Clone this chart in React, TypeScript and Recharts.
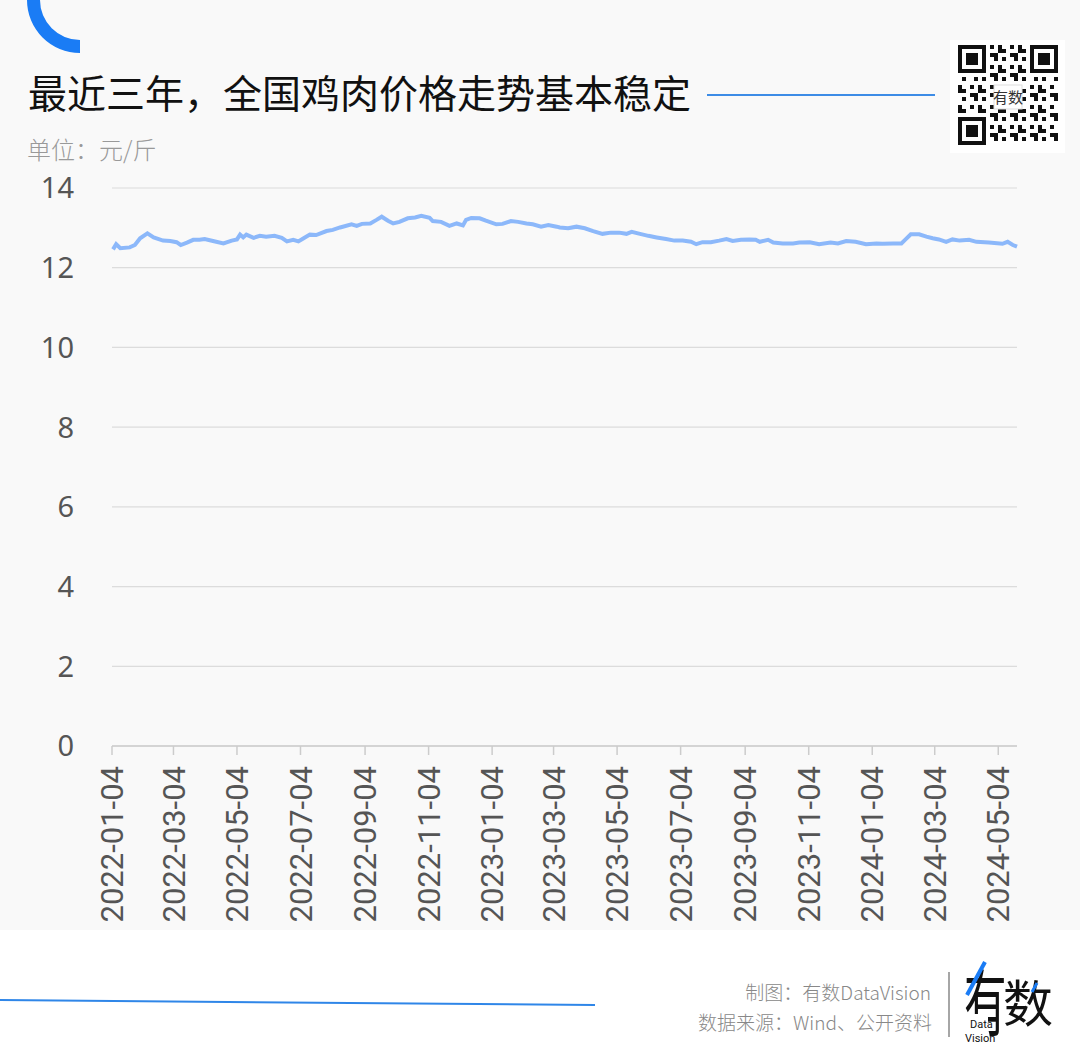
import React from "react"
import { CartesianGrid, Line, LineChart, XAxis, YAxis } from "recharts"

const dates = [
  "2022-01-05", "2022-01-08", "2022-01-12", "2022-01-21", "2022-01-26", "2022-01-31", "2022-02-07", "2022-02-13",
  "2022-02-22", "2022-03-01", "2022-03-07", "2022-03-11", "2022-03-17", "2022-03-23", "2022-03-29", "2022-04-03",
  "2022-04-11", "2022-04-21", "2022-04-29", "2022-05-04", "2022-05-07", "2022-05-10", "2022-05-13", "2022-05-20",
  "2022-05-26", "2022-06-01", "2022-06-09", "2022-06-16", "2022-06-21", "2022-06-27", "2022-07-02", "2022-07-07",
  "2022-07-13", "2022-07-19", "2022-07-29", "2022-08-04", "2022-08-11", "2022-08-22", "2022-08-27", "2022-09-01",
  "2022-09-09", "2022-09-15", "2022-09-20", "2022-09-26", "2022-10-01", "2022-10-07", "2022-10-15", "2022-10-22",
  "2022-10-28", "2022-11-05", "2022-11-08", "2022-11-16", "2022-11-24", "2022-12-01", "2022-12-07", "2022-12-10",
  "2022-12-15", "2022-12-23", "2022-12-29", "2023-01-08", "2023-01-14", "2023-01-22", "2023-01-29", "2023-02-06",
  "2023-02-12", "2023-02-20", "2023-02-27", "2023-03-07", "2023-03-10", "2023-03-18", "2023-03-26", "2023-04-03",
  "2023-04-11", "2023-04-20", "2023-04-28", "2023-05-06", "2023-05-13", "2023-05-18", "2023-05-26", "2023-06-03",
  "2023-06-11", "2023-06-20", "2023-06-28", "2023-07-06", "2023-07-14", "2023-07-19", "2023-07-25", "2023-08-02",
  "2023-08-10", "2023-08-17", "2023-08-23", "2023-08-31", "2023-09-08", "2023-09-14", "2023-09-18", "2023-09-26",
  "2023-10-01", "2023-10-10", "2023-10-20", "2023-10-26", "2023-11-05", "2023-11-14", "2023-11-25", "2023-12-02",
  "2023-12-10", "2023-12-19", "2023-12-29", "2024-01-08", "2024-01-14", "2024-01-24", "2024-02-01", "2024-02-05",
  "2024-02-10", "2024-02-18", "2024-02-25", "2024-03-02", "2024-03-08", "2024-03-15", "2024-03-21", "2024-03-28",
  "2024-04-06", "2024-04-13", "2024-04-25", "2024-05-08", "2024-05-13", "2024-05-18", "2024-05-22",
]

const prices = [
  12.46, 12.59, 12.49, 12.51, 12.57, 12.74, 12.86, 12.76,
  12.68, 12.67, 12.64, 12.57, 12.63, 12.7, 12.7, 12.72,
  12.67, 12.61, 12.68, 12.71, 12.83, 12.76, 12.83, 12.75,
  12.8, 12.78, 12.8, 12.75, 12.66, 12.7, 12.66, 12.74,
  12.83, 12.82, 12.92, 12.95, 13.01, 13.09, 13.05, 13.1,
  13.11, 13.2, 13.28, 13.18, 13.11, 13.15, 13.24, 13.26,
  13.3, 13.25, 13.17, 13.15, 13.05, 13.11, 13.06, 13.2,
  13.25, 13.24, 13.18, 13.09, 13.1, 13.17, 13.15, 13.11,
  13.09, 13.03, 13.07, 13.03, 13.01, 12.99, 13.03, 12.99,
  12.92, 12.85, 12.88, 12.88, 12.85, 12.9, 12.85, 12.8,
  12.76, 12.72, 12.68, 12.68, 12.65, 12.59, 12.64, 12.64,
  12.68, 12.72, 12.67, 12.7, 12.71, 12.7, 12.65, 12.7,
  12.63, 12.61, 12.61, 12.63, 12.64, 12.59, 12.63, 12.61,
  12.67, 12.65, 12.59, 12.61, 12.6, 12.61, 12.61, 12.71,
  12.84, 12.84, 12.78, 12.74, 12.71, 12.65, 12.71, 12.68,
  12.7, 12.65, 12.63, 12.6, 12.65, 12.57, 12.53,
]

const xTickDates = [
  "2022-01-04", "2022-03-04", "2022-05-04", "2022-07-04", "2022-09-04", "2022-11-04",
  "2023-01-04", "2023-03-04", "2023-05-04", "2023-07-04", "2023-09-04", "2023-11-04",
  "2024-01-04", "2024-03-04", "2024-05-04",
]
const yTicks = [0, 2, 4, 6, 8, 10, 12, 14]

const toTime = (s: string) => new Date(s + "T00:00:00Z").getTime()
const fmtDate = (t: number) => new Date(t).toISOString().slice(0, 10)

const data = dates.map((d, i) => ({ t: toTime(d), price: prices[i] }))

const XTick = (props: any) => {
  const { x, payload } = props
  const y = 766
  return (
    <text
      x={x}
      y={y}
      transform={`rotate(-90 ${x} ${y})`}
      textAnchor="end"
      dy="0.36em"
      fill="#555"
      fontSize={31}
      fontFamily="Roboto, 'Noto Sans', sans-serif"
    >
      {fmtDate(payload.value)}
    </text>
  )
}

const YTick = (props: any) => {
  const { y, payload } = props
  return (
    <text x={74} y={y} dy="0.36em" textAnchor="end" fill="#555" fontSize={29} fontFamily="'Noto Sans', sans-serif">
      {payload.value}
    </text>
  )
}

// decorative QR-like block, not data
const qrCells = () => {
  const cells: React.ReactNode[] = []
  const n = 25
  const s = 4
  const finder = (cx: number, cy: number) => (
    <g key={`f${cx}-${cy}`}>
      <rect x={cx} y={cy} width={7 * s} height={7 * s} fill="#111" />
      <rect x={cx + s} y={cy + s} width={5 * s} height={5 * s} fill="#fff" />
      <rect x={cx + 2 * s} y={cy + 2 * s} width={3 * s} height={3 * s} fill="#111" />
    </g>
  )
  for (let i = 0; i < n; i++) {
    for (let j = 0; j < n; j++) {
      const inFinder = (i < 8 && j < 8) || (i < 8 && j > n - 9) || (i > n - 9 && j < 8)
      if (inFinder) continue
      if ((i * 31 + j * 17 + i * j * 7) % 5 < 2) {
        cells.push(<rect key={`${i}-${j}`} x={958 + j * s} y={45 + i * s} width={s} height={s} fill="#111" />)
      }
    }
  }
  cells.push(finder(958, 45), finder(958 + (n - 7) * s, 45), finder(958, 45 + (n - 7) * s))
  return cells
}

export default function App() {
  return (
    <div style={{ position: "absolute", left: 0, top: 0, width: 1080, height: 1046, background: "#f9f9f9", overflow: "hidden" }}>
      <LineChart width={1080} height={1046} data={data} margin={{ top: 188, right: 63, bottom: 0, left: 0 }}>
        <CartesianGrid vertical={false} stroke="#dcdcdc" strokeWidth={1.2} />
        <XAxis
          dataKey="t"
          type="number"
          scale="time"
          domain={[toTime("2022-01-04"), toTime("2024-05-22")]}
          ticks={xTickDates.map(toTime)}
          height={300}
          axisLine={{ stroke: "#cccccc", strokeWidth: 1.5 }}
          tickLine={{ stroke: "#cccccc", strokeWidth: 1.5 }}
          tickSize={9}
          tick={<XTick />}
          interval={0}
        />
        <YAxis domain={[0, 14]} ticks={yTicks} width={112} axisLine={false} tickLine={false} tick={<YTick />} />
        <Line type="linear" dataKey="price" stroke="#8cb8fa" strokeWidth={4} dot={false} isAnimationActive={false} />
      </LineChart>

      <svg width={1080} height={1046} style={{ position: "absolute", left: 0, top: 0, pointerEvents: "none" }}>
        <path d="M 27 0 A 53 53 0 0 0 80 53 L 80 40 A 40 40 0 0 1 40 0 Z" fill="#1a7cf5" />
        <text x={28} y={108} fontSize={39} fontWeight={400} fill="#111" fontFamily="'Noto Sans CJK SC', sans-serif">
          最近三年，全国鸡肉价格走势基本稳定
        </text>
        <line x1={707} y1={95} x2={935} y2={95} stroke="#3d8ce6" strokeWidth={2} />
        <text x={27} y={159} fontSize={24} fill="#999" fontFamily="'Noto Sans CJK SC', sans-serif" fontWeight={300}>
          单位：元/斤
        </text>
        <rect x={950} y={40} width={115} height={113} fill="#fff" />
        {qrCells()}
        <rect x={994} y={85} width={28} height={24} fill="#fff" stroke="#ddd" />
        <text x={1008} y={103} fontSize={15} textAnchor="middle" fill="#333" fontFamily="'Noto Sans CJK SC', sans-serif">
          有数
        </text>

        <rect x={0} y={930} width={1080} height={116} fill="#ffffff" />
        <line x1={0} y1={1000} x2={595} y2={1005} stroke="#2f86e8" strokeWidth={2} />
        <text x={931} y={1000} fontSize={19} textAnchor="end" fill="#888" fontWeight={300} fontFamily="'Noto Sans CJK SC', sans-serif">
          制图：有数DataVision
        </text>
        <text x={932} y={1030} fontSize={19} textAnchor="end" fill="#888" fontWeight={300} fontFamily="'Noto Sans CJK SC', sans-serif">
          数据来源：Wind、公开资料
        </text>
        <line x1={949} y1={972} x2={949} y2={1037} stroke="#888" strokeWidth={1.5} />
        <text transform="translate(964 1030) scale(0.85 1.45)" fontSize={50} fill="#111" fontFamily="'Noto Sans CJK SC', sans-serif">
          有
        </text>
        <text x={1003} y={1022} fontSize={50} fill="#111" fontFamily="'Noto Sans CJK SC', sans-serif">
          数
        </text>
        <line x1={985} y1={962} x2={967} y2={995} stroke="#1a7cf5" strokeWidth={4} />
        <line x1={1037} y1={983} x2={1032} y2={992} stroke="#1a7cf5" strokeWidth={3} />
        <rect x={962} y={1014} width={26} height={30} fill="#fff" />
        <text x={970} y={1028} fontSize={11} fill="#111" fontFamily="Roboto, sans-serif">Data</text>
        <text x={965} y={1042} fontSize={11} fill="#111" fontFamily="Roboto, sans-serif">Vision</text>
      </svg>
    </div>
  )
}
